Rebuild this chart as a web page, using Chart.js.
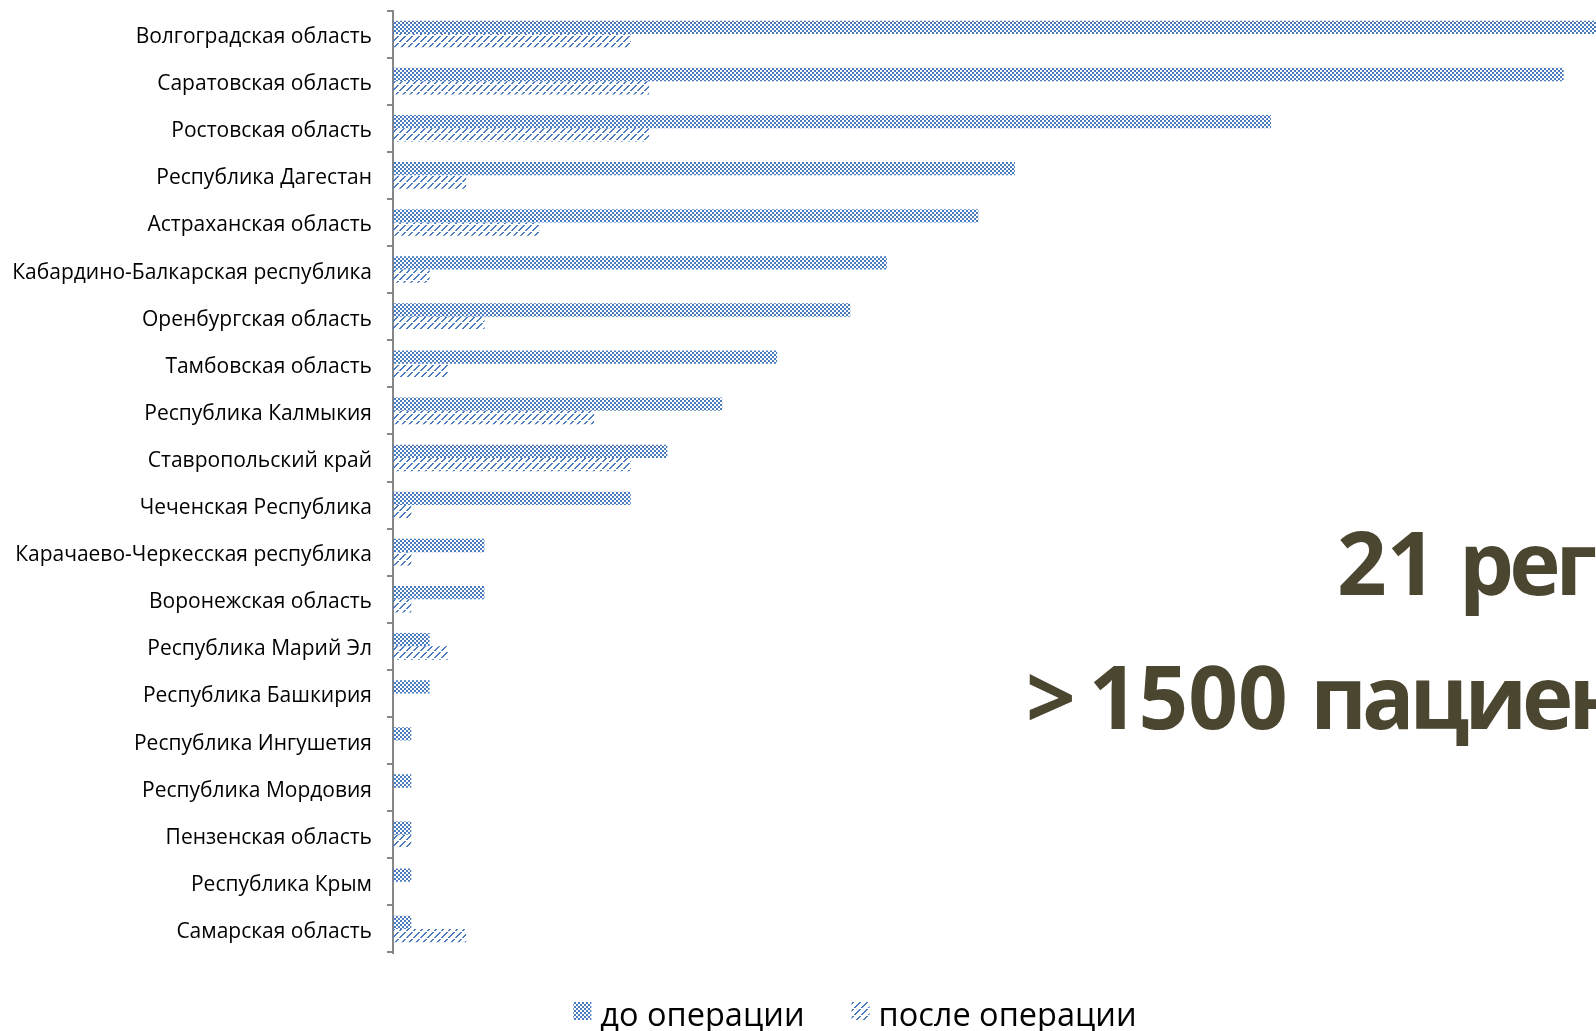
<!DOCTYPE html>
<html>
<head>
<meta charset="utf-8">
<script src="https://cdn.jsdelivr.net/npm/chart.js@4.4.1/dist/chart.umd.min.js"></script>
<style>
  html, body { margin: 0; padding: 0; width: 1596px; height: 1031px; overflow: hidden; background: #ffffff; }
  #wrap { position: absolute; left: 0; top: 0; width: 1710px; height: 1031px; }
  .big { position: absolute; font-family: 'Open Sans', sans-serif; font-weight: 700; font-size: 87px;
         line-height: 1; color: #4b4630; white-space: nowrap; }
  .tight { letter-spacing: -5px; }
</style>
</head>
<body>
<div id="wrap"><canvas id="chart"></canvas></div>
<div class="big" style="left:1337px; top:518px;">21 <span class="tight">регион</span></div>
<div class="big" style="left:1026px; top:652px;">&gt;<span style="margin-left:13px">1500</span> <span class="tight">пациентов</span></div>
<script>
// Regions, top to bottom
const regions = [
  'Волгоградская область',
  'Саратовская область',
  'Ростовская область',
  'Республика Дагестан',
  'Астраханская область',
  'Кабардино-Балкарская республика',
  'Оренбургская область',
  'Тамбовская область',
  'Республика Калмыкия',
  'Ставропольский край',
  'Чеченская Республика',
  'Карачаево-Черкесская республика',
  'Воронежская область',
  'Республика Марий Эл',
  'Республика Башкирия',
  'Республика Ингушетия',
  'Республика Мордовия',
  'Пензенская область',
  'Республика Крым',
  'Самарская область'
];
const seriesNames = ['до операции', 'после операции'];
const beforeSurgery = [70, 64, 48, 34, 32, 27, 25, 21, 18, 15, 13, 5, 5, 2, 2, 1, 1, 1, 1, 1];
const afterSurgery  = [13, 14, 14, 4, 8, 2, 5, 3, 11, 13, 1, 1, 1, 3, 0, 0, 0, 1, 0, 4];

const BLUE = '#4a7bbf';

// Small checkerboard fill
function checkerPattern(ctx) {
  const t = document.createElement('canvas');
  t.width = 4; t.height = 4;
  const g = t.getContext('2d');
  g.fillStyle = BLUE;
  g.fillRect(0, 0, 2, 2);
  g.fillRect(2, 2, 2, 2);
  return ctx.createPattern(t, 'repeat');
}

// Broken upward-diagonal hatch fill
function hatchPattern(ctx) {
  const t = document.createElement('canvas');
  t.width = 7; t.height = 7;
  const g = t.getContext('2d');
  g.fillStyle = BLUE;
  for (let i = 0; i < 6; i++) g.fillRect(i, 6 - i, 2, 1);
  return ctx.createPattern(t, 'repeat');
}

// Legend drawn under the plot, centred on the canvas
const bottomLegend = {
  id: 'bottomLegend',
  afterDraw(chart) {
    const ctx = chart.ctx;
    const ds = chart.data.datasets;
    ctx.save();
    ctx.font = "32.5px 'Open Sans'";
    ctx.textBaseline = 'alphabetic';
    const box = 18, gap = 9, itemGap = 47;
    const widths = ds.map(d => ctx.measureText(d.label).width);
    const total = widths.reduce((s, w) => s + box + gap + w, 0) + itemGap * (ds.length - 1);
    let x = chart.width / 2 - total / 2;
    const baseline = chart.chartArea.bottom + 73.5;
    ds.forEach((d, i) => {
      ctx.fillStyle = d.backgroundColor;
      ctx.fillRect(x, baseline - 24, box, box);
      ctx.fillStyle = '#000000';
      ctx.fillText(d.label, x + box + gap, baseline);
      x += box + gap + widths[i] + itemGap;
    });
    ctx.restore();
  }
};

const canvas = document.getElementById('chart');
const ctx = canvas.getContext('2d');

new Chart(ctx, {
  type: 'bar',
  data: {
    labels: regions,
    datasets: [
      { label: seriesNames[0], data: beforeSurgery, backgroundColor: checkerPattern(ctx), borderWidth: 0 },
      { label: seriesNames[1], data: afterSurgery, backgroundColor: hatchPattern(ctx), borderWidth: 0 }
    ]
  },
  options: {
    indexAxis: 'y',
    responsive: true,
    maintainAspectRatio: false,
    animation: false,
    layout: { padding: { top: 10.5, bottom: 78.5, left: 0, right: 0 } },
    datasets: { bar: { categoryPercentage: 0.565, barPercentage: 1.0 } },
    plugins: {
      legend: { display: false },
      tooltip: { enabled: false }
    },
    scales: {
      x: { display: false, min: 0, max: 72 },
      y: {
        afterFit(scale) {
          scale.width = 393;
          scale.paddingTop = 0;
          scale.paddingBottom = 0;
        },
        border: { display: true, color: '#878787', width: 2 },
        grid: { drawOnChartArea: false, drawTicks: true, tickLength: 6, color: '#878787', lineWidth: 2, offset: true },
        ticks: {
          autoSkip: false,
          padding: 15,
          labelOffset: 3,
          color: '#000000',
          font: { family: "'Open Sans'", size: 21 }
        }
      }
    }
  },
  plugins: [bottomLegend]
});
</script>
</body>
</html>
